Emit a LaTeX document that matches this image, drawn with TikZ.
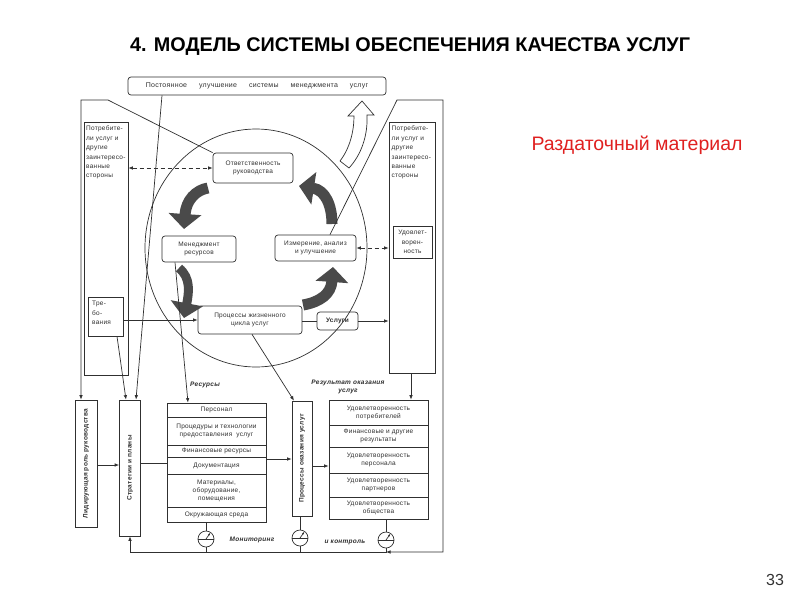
\documentclass[tikz,border=0pt]{standalone}
\usepackage{fontspec}
\setmainfont{Liberation Sans}
\newfontfamily\dfam[LetterSpace=4]{Liberation Sans}
\usetikzlibrary{arrows.meta}
\definecolor{ink}{HTML}{303030}
\definecolor{blkc}{HTML}{4A4A4A}
\definecolor{redc}{HTML}{E02020}
\newcommand{\dfont}{\dfam\fontsize{6.5}{8}\selectfont}
\newcommand{\pfont}{\dfam\fontsize{6.5}{9.4}\selectfont}
\begin{document}
\begin{tikzpicture}[x=1pt,y=-1pt,
  ln/.style={draw=ink, line width=0.7pt},
  arr/.style={ln, -{Latex[length=4.5pt,width=3.5pt]}},
  darr/.style={ln, dash pattern=on 4pt off 3pt, {Latex[length=4.5pt,width=3.5pt]}-{Latex[length=4.5pt,width=3.5pt]}},
  bx/.style={ln, rounded corners=3pt, align=center, font=\dfont, text=ink, inner sep=0pt},
  cell/.style={ln, align=center, font=\dfont, text=ink, inner sep=0pt, minimum width=99pt},
  rbox/.style={ln, inner sep=0pt},
  rtxt/.style={rotate=90, font=\dfont\bfseries, text=ink, inner sep=0pt},
  lbl/.style={font=\dfont\bfseries\itshape, text=ink, inner sep=0pt, align=center},
  blk/.style={draw=blkc, line width=11pt, -{Triangle[length=15pt,width=32pt]}},
  gau/.style={circle, ln, minimum size=16pt, inner sep=0pt}
]
\fill[white] (0,0) rectangle (800,600);
\useasboundingbox (0,0) rectangle (800,600);

% headings
\node[font=\fontsize{19.8}{23}\selectfont\bfseries, text=black] (title) at (410,47) {4. МОДЕЛЬ СИСТЕМЫ ОБЕСПЕЧЕНИЯ КАЧЕСТВА УСЛУГ};
\node[font=\fontsize{19.5}{23}\selectfont, text=redc] (hand) at (637,145) {Раздаточный материал};
\node[font=\fontsize{16}{19}\selectfont, text=black!80] (pnum) at (775,580) {33};

% big circle
\draw[ln] (256,248) ellipse [x radius=111pt, y radius=119pt];

% panels
\node[rbox, minimum width=44pt, minimum height=253pt] (lpanel) at (106,248.5) {};
\node[rbox, minimum width=46pt, minimum height=251pt] (rpanel) at (412,247.5) {};
\node[anchor=north west, align=left, font=\pfont, text=ink, inner sep=0pt] (lptxt) at (86,126) {Потребите-\\ли услуг и\\другие\\заинтересо-\\ванные\\стороны};
\node[anchor=north west, align=left, font=\pfont, text=ink, inner sep=0pt] (rptxt) at (391.5,126) {Потребите-\\ли услуг и\\другие\\заинтересо-\\ванные\\стороны};
\node[rbox, minimum width=35pt, minimum height=39pt] (treb) at (105.5,316.5) {};
\node[anchor=north west, align=left, font=\pfont, text=ink, inner sep=0pt] (trebt) at (92,301) {Тре-\\бо-\\вания};
\node[rbox, minimum width=39pt, minimum height=32pt, align=center, font=\pfont, text=ink] (udov) at (412.5,242) {Удовлет-\\ворен-\\ность};

% top box and circle nodes
\node[bx, minimum width=258pt, minimum height=18pt, font=\dfam\fontsize{7}{8}\selectfont] (top) at (257,86) {Постоянное\hspace{12pt}улучшение\hspace{12pt}системы\hspace{12pt}менеджмента\hspace{12pt}услуг};
\node[bx, minimum width=80pt, minimum height=30pt] (otv) at (253,168) {Ответственность\\руководства};
\node[bx, minimum width=74pt, minimum height=26pt] (men) at (199,249) {Менеджмент\\ресурсов};
\node[bx, minimum width=81pt, minimum height=26pt] (izm) at (315.5,248) {Измерение, анализ\\и улучшение};
\node[bx, minimum width=104pt, minimum height=28pt] (pzc) at (250,320) {Процессы жизненного\\цикла услуг};
\node[bx, minimum width=41pt, minimum height=18pt, font=\dfont\bfseries] (usl) at (337.5,321) {Услуги};

% curved block arrows
\draw[blk] (208,188) .. controls (196,190) and (186,200) .. (184,229);
\draw[blk, line width=9pt] (179,268) .. controls (191,278) and (189,292) .. (184,318);
\draw[blk] (303,305) .. controls (320,302) and (331,294) .. (333,267);
\draw[blk] (332,224) .. controls (332,205) and (325,190) .. (299,186);
\draw[ln, fill=white] (340,161) .. controls (350,148) and (354,131) .. (354,116) -- (348,116) -- (362,101) -- (374,115) -- (367,115) .. controls (368,136) and (361,155) .. (349,168) -- cycle;

% bottom left boxes
\node[rbox, minimum width=22pt, minimum height=127pt] (lid) at (86,463.5) {};
\node[rtxt] (lidt) at (lid.center) {Лидирующая роль руководства};
\node[rbox, minimum width=21pt, minimum height=136pt] (strat) at (130,468) {};
\node[rtxt] (stratt) at (strat.center) {Стратегии и планы};
\node[rbox, minimum width=20pt, minimum height=115pt] (poku) at (302,458.5) {};
\node[rtxt] (pokut) at (poku.center) {Процессы оказания услуг};

% resources table
\node[cell, minimum height=14pt] (r1) at (216.5,410) {Персонал};
\node[cell, minimum height=28pt] (r2) at (216.5,431) {Процедуры и технологии\\предоставления\ \ услуг};
\node[cell, minimum height=12pt] (r3) at (216.5,451) {Финансовые ресурсы};
\node[cell, minimum height=17pt] (r4) at (216.5,465.5) {Документация};
\node[cell, minimum height=33pt] (r5) at (216.5,490.5) {Материалы,\\оборудование,\\помещения};
\node[cell, minimum height=15pt] (r6) at (216.5,514.5) {Окружающая среда};

% results table
\node[cell, minimum height=25pt] (s1) at (378.5,412.5) {Удовлетворенность\\потребителей};
\node[cell, minimum height=22pt] (s2) at (378.5,436) {Финансовые и другие\\результаты};
\node[cell, minimum height=26pt] (s3) at (378.5,460) {Удовлетворенность\\персонала};
\node[cell, minimum height=24pt] (s4) at (378.5,485) {Удовлетворенность\\партнеров};
\node[cell, minimum height=22pt] (s5) at (378.5,508) {Удовлетворенность\\общества};

% labels
\node[lbl] (resl) at (205,385) {Ресурсы};
\node[lbl, font=\fontsize{6.5}{8}\dfam\bfseries\itshape] (rezl) at (348,387) {Результат оказания\\услуг};
\node[lbl] (monl) at (252,540) {Мониторинг};
\node[lbl] (kontl) at (345,542) {и контроль};

% gauges
\node[gau] (g1) at (206,539) {};
\node[gau] (g2) at (300,538) {};
\node[gau] (g3) at (386,540) {};
\foreach \g in {g1,g2,g3}{
  \draw[ln] (\g.west) -- (\g.east);
  \draw[ln, -{Latex[length=2.5pt,width=2.2pt]}] (\g.center) -- ++(55:7.5pt);
}

% connectors
\coordinate (fl1) at (108,100);
\coordinate (fl2) at (81,100);
\coordinate (fr1) at (397,100);
\coordinate (fr2) at (443,100);
\coordinate (fr3) at (443,552);
\coordinate (bl) at (130,552);
\draw[arr] (otv.north west) -- (fl1) -- (fl2) -- (fl2 |- lid.north);
\draw[arr] (330,0 |- izm.north) -- (fr1) -- (fr2) -- (fr3) -- (g3.south |- fr3);
\draw[arr] (g3.south) -- (g3.south |- bl) -- (bl) -- (strat.south);
\draw[ln] (r6.south -| g1.north) -- (g1.north);
\draw[ln] (g1.south) -- (g1.south |- bl);
\draw[ln] (poku.south -| g2.north) -- (g2.north);
\draw[ln] (g2.south) -- (g2.south |- bl);
\draw[ln] (s5.south -| g3.north) -- (g3.north);

\draw[arr] (treb.east |- pzc.west) -- (pzc.west);
\draw[ln] (pzc.east |- usl.west) -- (usl.west);
\draw[arr] (usl.east) -- (usl.east -| rpanel.west);
\draw[darr] (lpanel.east |- otv.west) -- (otv.west);
\draw[darr] (izm.east) -- (izm.east -| rpanel.west);

\draw[arr] (162,0 |- top.south) -- (136,0 |- strat.north);
\draw[arr] (117,0 |- treb.south) -- (126,0 |- strat.north);
\draw[arr] (175,0 |- men.south) -- (188,0 |- r1.north);
\draw[arr] (252,0 |- pzc.south) -- (294,0 |- poku.north);
\draw[arr] (411,0 |- rpanel.south) -- (411,0 |- s1.north);

\draw[arr] (lid.east |- 0,465) -- (strat.west |- 0,465);
\draw[ln] (strat.east |- 0,463) -- (r4.west |- 0,463);
\draw[arr] (r4.east |- 0,459) -- (poku.west |- 0,459);
\draw[arr] (poku.east |- 0,466) -- (s3.west |- 0,466);
\end{tikzpicture}
\end{document}
